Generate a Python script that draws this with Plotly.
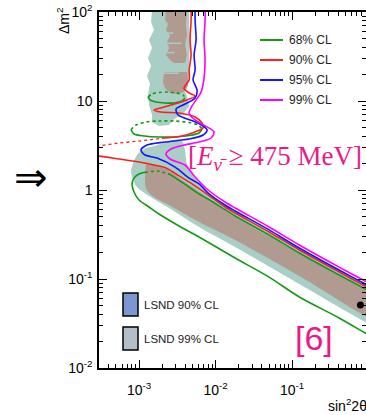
import plotly.graph_objects as go
import math

# ---------------- data (sin^2 2theta, delta m^2) ----------------
# LSND 99% CL region (teal) - upper vertical part
lsnd99_up_x = [1.48e-3, 1.44e-3, 1.57e-3, 1.35e-3, 1.48e-3, 1.31e-3, 1.44e-3, 1.27e-3, 1.39e-3, 1.31e-3,
               1.35e-3, 1.48e-3, 1.48e-3, 1.82e-3, 2.47e-3, 2.87e-3, 3.76e-3, 4.51e-3, 4.24e-3, 3.87e-3,
               4.37e-3, 4.51e-3, 4.64e-3, 4.51e-3, 4.51e-3]
lsnd99_up_y = [110, 77.3, 62.8, 48.4, 39.4, 30.4, 24.7, 19.1, 15.5, 12.0,
               9.02, 6.96, 5.81, 5.24, 5.38, 6.28, 7.14, 8.79, 11.4, 13.3,
               16.3, 25.4, 42.6, 71.4, 110]
# LSND 99% CL region (teal) - diagonal band
lsnd99_lo_x = [8.35e-4, 9.4e-4, 1.16e-3, 1.57e-3, 2.12e-3, 2.87e-3, 3.65e-3, 3.99e-3, 4.24e-3, 5.40e-3,
               7.98e-3, 1.80e-2, 0.124, 0.90, 1.29,
               1.29, 0.90, 0.124, 1.80e-2, 6.08e-3, 2.47e-3, 1.35e-3, 9.4e-4, 8.1e-4, 7.86e-4]
lsnd99_lo_y = [2.01, 2.47, 2.89, 3.12, 3.37, 3.65, 3.55, 2.81, 1.91, 1.36,
               0.95, 0.566, 0.223, 0.088, 0.0752,
               0.0281, 0.0329, 0.088, 0.229, 0.384, 0.628, 0.857, 1.08, 1.40, 1.68]
# LSND 90% CL region (brown) - upper parts
lsnd90_a_x = [2.25e-3, 2.19e-3, 2.39e-3, 2.25e-3, 2.54e-3, 2.32e-3, 2.47e-3, 2.25e-3, 2.54e-3, 2.87e-3,
              3.99e-3, 4.24e-3, 3.99e-3, 4.24e-3, 4.11e-3, 4.24e-3]
lsnd90_a_y = [110, 81.3, 73.3, 62.8, 53.7, 46.0, 39.4, 32.9, 28.9, 26.7,
              26.7, 32.9, 42.6, 55.2, 71.4, 110]
lsnd90_b_x = [2.19e-3, 2.06e-3, 2.19e-3, 2.62e-3, 3.54e-3, 4.24e-3, 4.37e-3, 4.24e-3]
lsnd90_b_y = [21.2, 17.2, 14.0, 12.3, 12.3, 14.0, 17.2, 21.2]
# LSND 90% CL region (brown) - diagonal band
lsnd90_c_x = [1.23e-3, 1.57e-3, 2.25e-3, 3.33e-3, 4.93e-3, 7.98e-3, 1.80e-2, 0.124, 0.90, 1.29,
              1.29, 0.90, 0.124, 1.80e-2, 6.08e-3, 2.47e-3, 1.44e-3, 1.23e-3, 1.20e-3]
lsnd90_c_y = [1.96, 1.91, 1.72, 1.36, 1.08, 0.813, 0.498, 0.196, 0.0752, 0.0644,
              0.0337, 0.0384, 0.108, 0.274, 0.437, 0.678, 0.88, 1.05, 1.47]
# thin gaps (streaks) across the upper LSND 90% region
streak_y = [20.5, 35.0, 44.5, 58.0]
streak_x0 = [2.2e-3, 2.3e-3, 2.2e-3, 2.3e-3]
streak_x1 = [3.3e-3, 2.9e-3, 3.6e-3, 2.8e-3]

# 99% CL contour (magenta)
cl99_x = [7.29e-3, 7.29e-3, 7.07e-3, 7.29e-3, 7.07e-3, 6.46e-3, 4.93e-3, 4.51e-3, 5.40e-3, 7.74e-3,
          9.55e-3, 8.73e-3, 6.08e-3, 3.87e-3, 2.62e-3, 2.25e-3, 2.54e-3, 3.99e-3, 5.40e-3, 7.98e-3,
          1.33e-2, 0.018, 0.050, 0.124, 0.411, 0.90, 1.29]
cl99_y = [120, 81.3, 48.4, 28.9, 18.1, 12.6, 8.79, 7.33, 6.12, 5.11,
          4.49, 3.84, 3.46, 3.20, 2.89, 2.54, 2.23, 1.91, 1.40, 1.00,
          0.733, 0.628, 0.384, 0.241, 0.136, 0.095, 0.0813]
# 95% CL contour (blue)
cl95_x = [5.40e-3, 5.40e-3, 5.56e-3, 5.24e-3, 5.40e-3, 5.08e-3, 5.73e-3, 5.40e-3, 3.99e-3, 3.05e-3,
          3.24e-3, 5.90e-3, 7.74e-3, 6.87e-3, 4.51e-3, 2.19e-3, 1.27e-3, 1.06e-3, 1.20e-3, 1.72e-3,
          2.96e-3, 4.51e-3, 6.08e-3, 7.98e-3, 1.33e-2, 0.018, 0.050, 0.124, 0.411, 0.90, 1.29]
cl95_y = [120, 81.3, 48.4, 32.9, 22.3, 17.2, 13.3, 10.8, 9.25, 8.13,
          6.96, 5.66, 4.73, 4.15, 3.74, 3.46, 3.20, 2.81, 2.47, 2.29,
          1.81, 1.36, 1.17, 0.925, 0.678, 0.581, 0.356, 0.223, 0.126, 0.088, 0.0752]
# 90% CL contour (red): upper branch, dotted left excursion, lower branch
cl90_a_x = [4.79e-3, 4.79e-3, 4.64e-3, 4.79e-3, 4.51e-3, 4.51e-3, 3.99e-3, 3.87e-3, 4.51e-3, 5.40e-3,
            3.87e-3, 2.12e-3, 1.57e-3, 1.94e-3, 3.33e-3, 5.40e-3, 6.66e-3, 6.87e-3, 5.40e-3, 3.65e-3,
            2.19e-3]
cl90_a_y = [120, 81.3, 48.4, 32.9, 22.3, 17.2, 14.8, 13.7, 12.3, 11.4,
            10.0, 8.57, 7.93, 7.52, 7.33, 6.61, 5.66, 4.98, 4.49, 4.05,
            3.84]
cl90_dot_x = [2.19e-3, 1.0e-3, 5.48e-4, 2.91e-4, 2.22e-4]
cl90_dot_y = [3.84, 3.55, 3.37, 3.12, 3.04]
cl90_b_x = [2.22e-4, 2.91e-4, 5.48e-4, 1.0e-3, 1.57e-3, 2.25e-3, 3.33e-3, 4.93e-3, 7.98e-3, 1.33e-2,
            0.018, 0.050, 0.124, 0.411, 0.90, 1.29]
cl90_b_y = [2.41, 2.41, 2.23, 2.06, 1.91, 1.77, 1.44, 1.17, 0.88, 0.644,
            0.552, 0.337, 0.212, 0.120, 0.0834, 0.0714]
# 68% CL contour (green): two islands and the big lower loop
cl68_e1_top_x = [1.31e-3, 1.48e-3, 1.82e-3, 2.32e-3, 3.05e-3, 3.76e-3, 3.99e-3]
cl68_e1_top_y = [11.1, 12.0, 12.46, 12.6, 12.3, 11.7, 10.8]
cl68_e1_bot_x = [3.99e-3, 3.65e-3, 2.87e-3, 2.19e-3, 1.67e-3, 1.39e-3, 1.31e-3]
cl68_e1_bot_y = [10.8, 10.0, 9.50, 9.50, 9.75, 10.3, 11.1]
cl68_e2_top_x = [7.86e-4, 9.14e-4, 1.23e-3, 1.82e-3, 2.87e-3, 4.51e-3, 5.90e-3, 6.66e-3]
cl68_e2_top_y = [4.73, 5.38, 5.81, 5.96, 5.96, 5.73, 5.38, 4.84]
cl68_e2_bot_x = [6.66e-3, 6.08e-3, 4.51e-3, 2.87e-3, 1.82e-3, 1.16e-3, 8.6e-4, 7.86e-4]
cl68_e2_bot_y = [4.84, 4.37, 4.09, 3.94, 3.94, 4.05, 4.26, 4.73]
cl68_up_x = [1.29, 0.90, 0.411, 0.124, 0.050, 0.018, 7.98e-3, 6.08e-3, 4.11e-3, 2.62e-3]
cl68_up_y = [0.0661, 0.0773, 0.111, 0.196, 0.312, 0.511, 0.792, 0.902, 1.14, 1.47]
cl68_dot_x = [2.62e-3, 1.82e-3, 1.27e-3]
cl68_dot_y = [1.47, 1.63, 1.59]
cl68_lo_x = [1.27e-3, 1.0e-3, 8.6e-4, 8.1e-4, 8.6e-4, 1.0e-3, 1.35e-3, 1.82e-3, 3.33e-3, 6.08e-3,
             0.018, 0.050, 0.124, 0.411, 0.90, 1.29]
cl68_lo_y = [1.59, 1.51, 1.36, 1.17, 0.95, 0.773, 0.644, 0.537, 0.394, 0.296,
             0.172, 0.105, 0.0628, 0.0365, 0.0247, 0.0207]
# best fit point
best_x = [0.78]
best_y = [0.051]

x_tickvals = [1e-3, 1e-2, 1e-1]
x_ticktext = ["10<sup>-3</sup>", "10<sup>-2</sup>", "10<sup>-1</sup>"]
y_tickvals = [1e-2, 1e-1, 1, 10, 100]
y_ticktext = ["10<sup>-2</sup>", "10<sup>-1</sup>", "1", "10", "10<sup>2</sup>"]
x_minor = [m * 10.0 ** e for e in (-4, -3, -2, -1) for m in range(2, 10)]
y_minor = [m * 10.0 ** e for e in (-2, -1, 0, 1) for m in range(2, 10)]

cl_labels = ["68% CL", "90% CL", "95% CL", "99% CL"]
lsnd_labels = ["LSND 90% CL", "LSND 99% CL"]

TEAL = "#a9cec5"
BROWN = "#b19b90"
GREEN = "#129a12"
RED = "#ff1e1e"
BLUE = "#1414ff"
MAGENTA = "#ff00ff"
PINK = "#ea1a8c"
cl_colors = [GREEN, RED, BLUE, MAGENTA]

fig = go.Figure()

def fill(x, y, color, shape="linear"):
    fig.add_trace(go.Scatter(x=x, y=y, fill="toself", fillcolor=color, mode="lines",
                             line=dict(width=0, color=color, shape=shape), hoverinfo="skip"))

def line(x, y, color, dash="solid", width=1.6):
    fig.add_trace(go.Scatter(x=x, y=y, mode="lines", hoverinfo="skip",
                             line=dict(color=color, width=width, dash=dash, shape="spline", smoothing=0.8)))

fill(lsnd99_up_x, lsnd99_up_y, TEAL)
fill(lsnd99_lo_x, lsnd99_lo_y, TEAL, "spline")
fill(lsnd90_a_x, lsnd90_a_y, BROWN)
fill(lsnd90_b_x, lsnd90_b_y, BROWN, "spline")
fill(lsnd90_c_x, lsnd90_c_y, BROWN, "spline")
for sy, sx0, sx1 in zip(streak_y, streak_x0, streak_x1):
    fig.add_trace(go.Scatter(x=[sx0, sx1], y=[sy, sy], mode="lines", hoverinfo="skip",
                             line=dict(color=TEAL, width=1.5)))

line(cl68_e1_top_x, cl68_e1_top_y, GREEN, "dot")
line(cl68_e1_bot_x, cl68_e1_bot_y, GREEN)
line(cl68_e2_top_x, cl68_e2_top_y, GREEN, "dot")
line(cl68_e2_bot_x, cl68_e2_bot_y, GREEN)
line(cl68_up_x, cl68_up_y, GREEN)
line(cl68_dot_x, cl68_dot_y, GREEN, "dot")
line(cl68_lo_x, cl68_lo_y, GREEN)
line(cl90_a_x, cl90_a_y, RED)
line(cl90_dot_x, cl90_dot_y, RED, "dot", 1.3)
line(cl90_b_x, cl90_b_y, RED)
line(cl95_x, cl95_y, BLUE)
line(cl99_x, cl99_y, MAGENTA)

fig.add_trace(go.Scatter(x=best_x, y=best_y, mode="markers", hoverinfo="skip",
                         marker=dict(color="black", size=7)))
# invisible trace to anchor the right-hand tick axis
fig.add_trace(go.Scatter(x=best_x, y=best_y, yaxis="y2", mode="markers", hoverinfo="skip",
                         marker=dict(opacity=0)))

# ---------------- layout ----------------
W, H = 366, 415
L, T, B, R = 99, 12, 47, 0
pw, ph = W - L - R, H - T - B

def px(x):
    return (x - L) / pw

def py(y):
    return (H - B - y) / ph

tickfont = dict(family="Liberation Sans, Arial", size=14, color="black")
minor_common = dict(tickmode="array", ticks="inside", ticklen=4, tickcolor="black", tickwidth=1)

fig.update_layout(
    width=W, height=H, margin=dict(l=L, r=R, t=T, b=B),
    paper_bgcolor="white", plot_bgcolor="white", showlegend=False,
    xaxis=dict(type="log", range=[math.log10(3e-4), -0.035], tickmode="array",
               tickvals=x_tickvals, ticktext=x_ticktext, ticklabelstandoff=8,
               showline=True, linecolor="black", linewidth=1.5, mirror="ticks",
               ticks="inside", ticklen=8, tickwidth=1, tickcolor="black",
               showgrid=False, zeroline=False, tickfont=tickfont,
               minor=dict(tickvals=x_minor, **minor_common)),
    yaxis=dict(type="log", range=[-2, 2], tickmode="array",
               tickvals=y_tickvals, ticktext=y_ticktext, ticklabelstandoff=2,
               showline=True, linecolor="black", linewidth=1.5, mirror=False,
               ticks="inside", ticklen=8, tickwidth=1, tickcolor="black",
               showgrid=False, zeroline=False, tickfont=tickfont,
               minor=dict(tickvals=y_minor, **minor_common)),
    yaxis2=dict(type="log", range=[-2, 2], overlaying="y", side="right", tickmode="array",
                tickvals=y_tickvals, showticklabels=False, showline=False,
                ticks="inside", ticklen=8, tickwidth=1, tickcolor="black",
                showgrid=False, zeroline=False,
                minor=dict(tickvals=y_minor, **minor_common)),
)

shapes = []
ann = []
# CL legend
for i, (lab, col) in enumerate(zip(cl_labels, cl_colors)):
    yy = 40 + 20 * i
    shapes.append(dict(type="line", xref="paper", yref="paper", x0=px(260), x1=px(283),
                       y0=py(yy), y1=py(yy), line=dict(color=col, width=2)))
    ann.append(dict(text=lab, xref="paper", yref="paper", x=px(287), y=py(yy), xanchor="left",
                    yanchor="middle", showarrow=False,
                    font=dict(family="Liberation Sans, Arial", size=12, color="#222")))
# LSND legend
for i, (lab, col) in enumerate(zip(lsnd_labels, ["#7b97d2", "#b3bfc8"])):
    y0 = 293 + 34 * i
    shapes.append(dict(type="rect", xref="paper", yref="paper", x0=px(123), x1=px(138),
                       y0=py(y0 + 23), y1=py(y0), fillcolor=col, line=dict(color="black", width=1.5)))
    ann.append(dict(text=lab, xref="paper", yref="paper", x=px(142), y=py(y0 + 12), xanchor="left",
                    yanchor="middle", showarrow=False,
                    font=dict(family="Liberation Sans, Arial", size=11.5, color="#222")))

ann += [
    dict(text="Δm<sup>2</sup>", xref="paper", yref="paper", x=px(63), y=py(21), textangle=-90,
         xanchor="center", yanchor="middle", showarrow=False,
         font=dict(family="Liberation Sans, Arial", size=14, color="black")),
    dict(text="sin<sup>2</sup>2θ", xref="paper", yref="paper", x=px(326), y=py(405), xanchor="left",
         yanchor="middle", showarrow=False,
         font=dict(family="Liberation Sans, Arial", size=14, color="black")),
    dict(text="⇒", xref="paper", yref="paper", x=px(31), y=py(177), xanchor="center", yanchor="middle",
         showarrow=False, font=dict(family="DejaVu Sans", size=40, color="black")),
    dict(text="[<i>E</i><sub><i>ν̄</i></sub> ≥ 475 MeV]", xref="paper", yref="paper", x=px(275), y=py(158),
         xanchor="center", yanchor="middle", showarrow=False,
         font=dict(family="Liberation Serif, Times New Roman", size=27, color=PINK)),
    dict(text="[6]", xref="paper", yref="paper", x=px(314), y=py(338), xanchor="center", yanchor="middle",
         showarrow=False, font=dict(family="Liberation Sans, Arial", size=34, color=PINK)),
]
fig.update_layout(shapes=shapes, annotations=ann)

fig.write_html("out.html")
